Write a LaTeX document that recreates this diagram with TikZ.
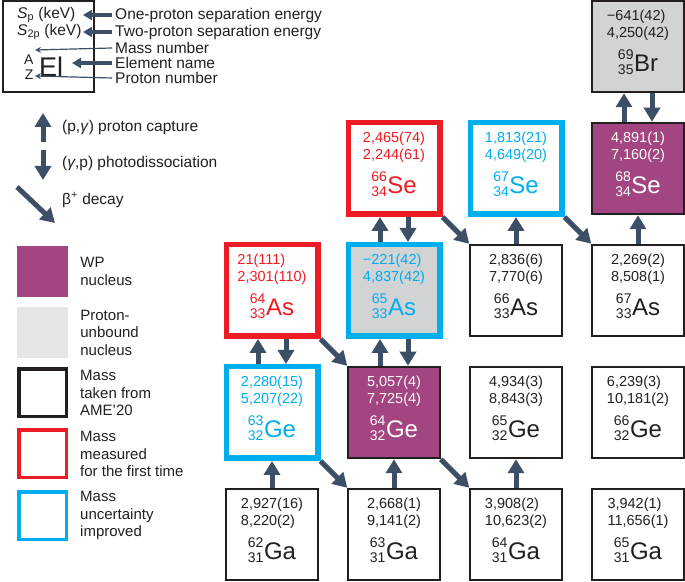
\documentclass[tikz,border=0pt]{standalone}
\usepackage{fontspec}
\setmainfont{Liberation Sans}
\usepackage{xcolor}
\usetikzlibrary{math}
\usetikzlibrary{arrows.meta}
\usetikzlibrary{positioning}

\definecolor{ink}{RGB}{35,31,32}
\definecolor{arrc}{RGB}{61,79,102}
\definecolor{mred}{RGB}{237,28,36}
\definecolor{mblue}{RGB}{0,174,239}
\definecolor{wpc}{RGB}{163,69,128}
\definecolor{ubc}{RGB}{209,211,212}
\definecolor{ubl}{RGB}{230,230,231}

% nuclide: mass number over proton number, then element
\newcommand{\iso}[3]{\raisebox{-3pt}{\fontsize{14}{15}\selectfont\begin{tabular}[b]{@{}r@{}}#1\\#2\end{tabular}}\kern0.5pt{\fontsize{24}{24}\selectfont#3}}

\tikzset{ra/.style={draw=arrc, line width=5pt, -{Triangle[width=16pt,length=14pt]}}}
\tikzset{ka/.style={draw=arrc, line width=3.5pt, -{Triangle[width=10pt,length=9pt]}}}
\tikzset{kt/.style={draw=arrc, line width=1.2pt, -{Stealth[width=6pt,length=6pt]}}}

\begin{document}
\begin{tikzpicture}[x=1pt, y=1pt]
\tikzset{
  base/.style={draw=ink, line width=2pt, minimum size=91.5pt, inner sep=0pt},
  bk/.style={base},
  rd/.style={base, draw=mred, line width=5.5pt},
  bl/.style={base, draw=mblue, line width=5.5pt},
  wp/.style={base, fill=wpc},
  ub/.style={base, fill=ubc},
  val/.style={align=left, inner sep=0pt, text=ink, font=\fontsize{14.5}{17}\selectfont},
  sym/.style={anchor=base, inner sep=0pt, text=ink},
  ktx/.style={anchor=west, inner sep=3pt, text=ink, font=\fontsize{15.5}{17}\selectfont},
  sq/.style={minimum size=51pt, inner sep=0pt},
  sqo/.style={minimum size=47.5pt, inner sep=0pt, line width=3.5pt},
  ltx/.style={align=left, inner sep=2pt, text=ink, font=\fontsize{15}{17.5}\selectfont},
}
\useasboundingbox (0,0) rectangle (685,581);

\tikzmath{\r=122;}

% key box
\node[bk] (key) at (48.5, 534.5) {};
\node[ktx, inner sep=0pt] (ksp) at (17, 566) {\textit{S}\textsubscript{p} (keV)};
\node[ktx, inner sep=0pt] (kstp) at (17, 549) {\textit{S}\textsubscript{2p} (keV)};
\node[anchor=base west, inner sep=0pt, text=ink] (kel) at (24, 504) {\iso{A}{Z}{\fontsize{27}{27}\selectfont\kern5pt El}};
\node[ktx] (kone) at (112, 566) {One-proton separation energy};
\node[ktx] (ktwo) at (112, 549) {Two-proton separation energy};
\node[ktx] (kmass) at (112, 533) {Mass number};
\node[ktx] (kname) at (112, 518) {Element name};
\node[ktx] (kprot) at (112, 503) {Proton number};
\coordinate (kpone) at (83, 566);
\coordinate (kptwo) at (83, 549);
\coordinate (kpmass) at (35, 531);
\coordinate (kpname) at (72, 518);
\coordinate (kpprot) at (35, 505);
\draw[ka] (kone.west) -- (kpone);
\draw[ka] (ktwo.west) -- (kptwo);
\draw[kt] (kmass.west) -- (kpmass);
\draw[ka] (kname.west) -- (kpname);
\draw[kt] (kprot.west) -- (kpprot);

% reactions
\coordinate (pg0) at (43, 439);
\coordinate (pg1) at (43, 468);
\coordinate (gp0) at (43, 431);
\coordinate (gp1) at (43, 401);
\coordinate (bd0) at (17, 394);
\coordinate (bd1) at (55, 358);
\draw[ra] (pg0) -- (pg1);
\draw[ra] (gp0) -- (gp1);
\draw[ra] (bd0) -- (bd1);
\node[ktx, inner sep=0pt] (lpg) at (62, 454) {(p,\textit{γ}) proton capture};
\node[ktx, inner sep=0pt] (lgp) at (62, 418) {(\textit{γ},p) photodissociation};
\node[ktx, inner sep=0pt] (lbd) at (62, 381) {β\textsuperscript{+} decay};

% colour key
\node[sq, fill=wpc] (lwp) at (42.5, 309.5) {};
\node[sq, fill=ubl] (lub) at (42.5, 248.5) {};
\node[sqo, draw=ink] (lame) at (42.5, 188) {};
\node[sqo, draw=mred] (lnew) at (42.5, 127) {};
\node[sqo, draw=mblue] (limp) at (42.5, 65.5) {};
\node[ltx, right=10pt of lwp] (twp) {WP\\nucleus};
\node[ltx, right=10pt of lub] (tub) {Proton-\\unbound\\nucleus};
\node[ltx, right=10pt of lame] (tame) {Mass\\taken from\\AME’20};
\node[ltx, right=10pt of lnew] (tnew) {Mass\\measured\\for the first time};
\node[ltx, right=10pt of limp] (timp) {Mass\\uncertainty\\improved};

\begin{scope}[shift={(272,46.5)}]
% Ga
\node[bk] (ga62) at (0, 0) {};
\node[bk] (ga63) at (\r, 0) {};
\node[bk] (ga64) at (2*\r, 0) {};
\node[bk] (ga65) at (3*\r, 0) {};
% Ge
\node[bl] (ge63) at (0, \r) {};
\node[wp] (ge64) at (\r, \r) {};
\node[bk] (ge65) at (2*\r, \r) {};
\node[bk] (ge66) at (3*\r, \r) {};
% As
\node[rd] (as64) at (0, 2*\r) {};
\node[bl, fill=ubc] (as65) at (\r, 2*\r) {};
\node[bk] (as66) at (2*\r, 2*\r) {};
\node[bk] (as67) at (3*\r, 2*\r) {};
% Se, Br
\node[rd] (se66) at (\r, 3*\r) {};
\node[bl] (se67) at (2*\r, 3*\r) {};
\node[wp] (se68) at (3*\r, 3*\r) {};
\node[ub] (br69) at (3*\r, 4*\r) {};
\end{scope}

\node[val] (ga62v) at ([yshift=21.5pt]ga62.center) {2,927(16)\\8,220(2)};
\node[sym] (ga62s) at ([yshift=-25pt]ga62.center) {\iso{62}{31}{Ga}};
\node[val] (ga63v) at ([yshift=21.5pt]ga63.center) {2,668(1)\\9,141(2)};
\node[sym] (ga63s) at ([yshift=-25pt]ga63.center) {\iso{63}{31}{Ga}};
\node[val] (ga64v) at ([yshift=21.5pt]ga64.center) {3,908(2)\\10,623(2)};
\node[sym] (ga64s) at ([yshift=-25pt]ga64.center) {\iso{64}{31}{Ga}};
\node[val] (ga65v) at ([yshift=21.5pt]ga65.center) {3,942(1)\\11,656(1)};
\node[sym] (ga65s) at ([yshift=-25pt]ga65.center) {\iso{65}{31}{Ga}};

\node[val, text=mblue] (ge63v) at ([yshift=21.5pt]ge63.center) {2,280(15)\\5,207(22)};
\node[sym, text=mblue] (ge63s) at ([yshift=-25pt]ge63.center) {\iso{63}{32}{Ge}};
\node[val, text=white] (ge64v) at ([yshift=21.5pt]ge64.center) {5,057(4)\\7,725(4)};
\node[sym, text=white] (ge64s) at ([yshift=-25pt]ge64.center) {\iso{64}{32}{Ge}};
\node[val] (ge65v) at ([yshift=21.5pt]ge65.center) {4,934(3)\\8,843(3)};
\node[sym] (ge65s) at ([yshift=-25pt]ge65.center) {\iso{65}{32}{Ge}};
\node[val] (ge66v) at ([yshift=21.5pt]ge66.center) {6,239(3)\\10,181(2)};
\node[sym] (ge66s) at ([yshift=-25pt]ge66.center) {\iso{66}{32}{Ge}};

\node[val, text=mred] (as64v) at ([yshift=21.5pt]as64.center) {21(111)\\2,301(110)};
\node[sym, text=mred] (as64s) at ([yshift=-25pt]as64.center) {\iso{64}{33}{As}};
\node[val, text=mblue] (as65v) at ([yshift=21.5pt]as65.center) {−221(42)\\4,837(42)};
\node[sym, text=mblue] (as65s) at ([yshift=-25pt]as65.center) {\iso{65}{33}{As}};
\node[val] (as66v) at ([yshift=21.5pt]as66.center) {2,836(6)\\7,770(6)};
\node[sym] (as66s) at ([yshift=-25pt]as66.center) {\iso{66}{33}{As}};
\node[val] (as67v) at ([yshift=21.5pt]as67.center) {2,269(2)\\8,508(1)};
\node[sym] (as67s) at ([yshift=-25pt]as67.center) {\iso{67}{33}{As}};

\node[val, text=mred] (se66v) at ([yshift=21.5pt]se66.center) {2,465(74)\\2,244(61)};
\node[sym, text=mred] (se66s) at ([yshift=-25pt]se66.center) {\iso{66}{34}{Se}};
\node[val, text=mblue] (se67v) at ([yshift=21.5pt]se67.center) {1,813(21)\\4,649(20)};
\node[sym, text=mblue] (se67s) at ([yshift=-25pt]se67.center) {\iso{67}{34}{Se}};
\node[val, text=white] (se68v) at ([yshift=21.5pt]se68.center) {4,891(1)\\7,160(2)};
\node[sym, text=white] (se68s) at ([yshift=-25pt]se68.center) {\iso{68}{34}{Se}};
\node[val] (br69v) at ([yshift=21.5pt]br69.center) {−641(42)\\4,250(42)};
\node[sym] (br69s) at ([yshift=-25pt]br69.center) {\iso{69}{35}{Br}};

% proton captures
\draw[ra] (ga62.north) -- (ge63.south);
\draw[ra] (ga63.north) -- (ge64.south);
\draw[ra] (ga64.north) -- (ge65.south);
\draw[ra] (as66.north) -- (se67.south);
\draw[ra] (as67.north) -- (se68.south);
\draw[ra] ([xshift=-14pt]ge63.north) -- ([xshift=-14pt]as64.south);
\draw[ra] ([xshift=-14pt]ge64.north) -- ([xshift=-14pt]as65.south);
\draw[ra] ([xshift=-14pt]as65.north) -- ([xshift=-14pt]se66.south);
\draw[ra] ([xshift=-14pt]se68.north) -- ([xshift=-14pt]br69.south);

% photodissociation
\draw[ra] ([xshift=14pt]as64.south) -- ([xshift=14pt]ge63.north);
\draw[ra] ([xshift=14pt]as65.south) -- ([xshift=14pt]ge64.north);
\draw[ra] ([xshift=14pt]se66.south) -- ([xshift=14pt]as65.north);
\draw[ra] ([xshift=14pt]br69.south) -- ([xshift=14pt]se68.north);

% beta decays
\draw[ra] (ge63.south east) -- (ga63.north west);
\draw[ra] (ge64.south east) -- (ga64.north west);
\draw[ra] (as64.south east) -- (ge64.north west);
\draw[ra] (se66.south east) -- (as66.north west);
\draw[ra] (se67.south east) -- (as67.north west);
\end{tikzpicture}
\end{document}
